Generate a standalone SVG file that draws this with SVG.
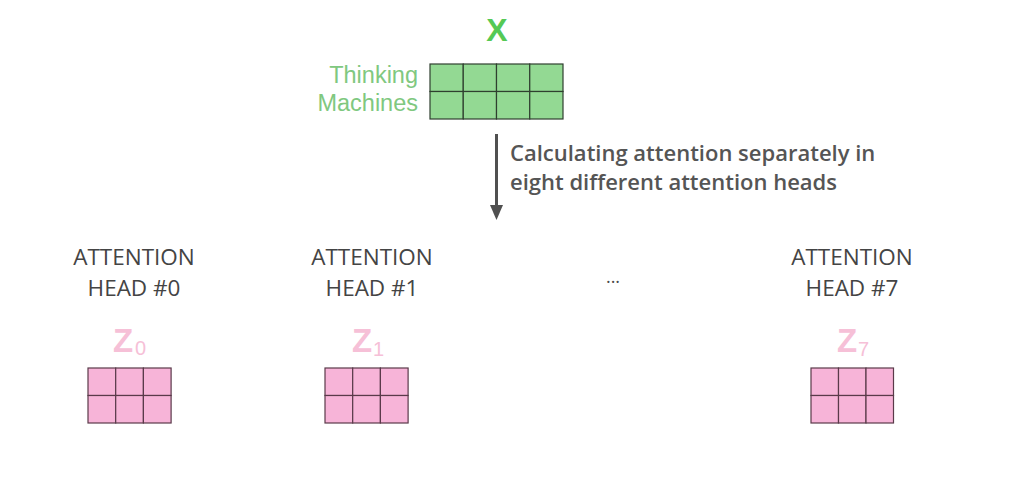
<svg xmlns="http://www.w3.org/2000/svg" width="1018" height="483" viewBox="0 0 1018 483">
<defs>
<style>
.head{font-family:"Open Sans","Liberation Sans",sans-serif;font-weight:500;font-size:22.5px;fill:#444;text-anchor:middle}
.note{font-family:"Open Sans","Liberation Sans",sans-serif;font-weight:600;font-size:22px;fill:#555}
.word{font-family:"Liberation Sans",sans-serif;font-size:23.5px;fill:#80c880;text-anchor:end}
.gcell{fill:#93d993;stroke:#2f3f2f;stroke-width:1.2}
.pcell{fill:#f7b4d8;stroke:#5a3a4a;stroke-width:1.2}
.zlab{font-family:"Liberation Sans",sans-serif;font-weight:bold;font-size:33px;fill:#f6c0d7}
.zsub{font-family:"Liberation Sans",sans-serif;font-size:20px;fill:#f6c0d7}
</style>
<marker id="ah" markerWidth="15" markerHeight="13" refX="0" refY="6.5" orient="auto" markerUnits="userSpaceOnUse" viewBox="0 0 15 13">
<path d="M0,0 L15,6.5 L0,13 Z" fill="#505050"/>
</marker>
</defs>
<rect width="1018" height="483" fill="#fff"/>
<g id="input-x">
<text x="497" y="41" font-family="Liberation Sans,sans-serif" font-weight="bold" font-size="32" fill="#55c955" text-anchor="middle">X</text>
<text class="word" x="418" y="83">Thinking</text>
<text class="word" x="418" y="111">Machines</text>
<g>
<rect class="gcell" x="430" y="64" width="33.25" height="27.5"/>
<rect class="gcell" x="463.25" y="64" width="33.25" height="27.5"/>
<rect class="gcell" x="496.5" y="64" width="33.25" height="27.5"/>
<rect class="gcell" x="529.75" y="64" width="33.25" height="27.5"/>
<rect class="gcell" x="430" y="91.5" width="33.25" height="27.5"/>
<rect class="gcell" x="463.25" y="91.5" width="33.25" height="27.5"/>
<rect class="gcell" x="496.5" y="91.5" width="33.25" height="27.5"/>
<rect class="gcell" x="529.75" y="91.5" width="33.25" height="27.5"/>
</g>
</g>
<g id="connectors">
<line x1="496.5" y1="134" x2="496.5" y2="205" stroke="#505050" stroke-width="3" marker-end="url(#ah)"/>
<text class="note" x="510" y="161">Calculating attention separately in</text>
<text class="note" x="510" y="190">eight different attention heads</text>
</g>
<g id="head0">
<text class="head" x="134" y="265">ATTENTION</text>
<text class="head" x="134" y="296">HEAD #0</text>
<text class="zlab" x="113" y="352">Z</text><text class="zsub" x="135" y="355">0</text>
<rect class="pcell" x="88" y="368" width="27.7" height="27.5"/>
<rect class="pcell" x="115.7" y="368" width="27.7" height="27.5"/>
<rect class="pcell" x="143.4" y="368" width="27.7" height="27.5"/>
<rect class="pcell" x="88" y="395.5" width="27.7" height="27.5"/>
<rect class="pcell" x="115.7" y="395.5" width="27.7" height="27.5"/>
<rect class="pcell" x="143.4" y="395.5" width="27.7" height="27.5"/>
</g>
<g id="head1">
<text class="head" x="372" y="265">ATTENTION</text>
<text class="head" x="372" y="296">HEAD #1</text>
<text class="zlab" x="352" y="352">Z</text><text class="zsub" x="373" y="356">1</text>
<rect class="pcell" x="325" y="368" width="27.7" height="27.5"/>
<rect class="pcell" x="352.7" y="368" width="27.7" height="27.5"/>
<rect class="pcell" x="380.4" y="368" width="27.7" height="27.5"/>
<rect class="pcell" x="325" y="395.5" width="27.7" height="27.5"/>
<rect class="pcell" x="352.7" y="395.5" width="27.7" height="27.5"/>
<rect class="pcell" x="380.4" y="395.5" width="27.7" height="27.5"/>
</g>
<g id="ellipsis">
<text x="613" y="283" font-family="Open Sans,Liberation Sans,sans-serif" font-size="18" fill="#4a4a4a" text-anchor="middle">...</text>
</g>
<g id="head7">
<text class="head" x="852" y="265">ATTENTION</text>
<text class="head" x="852" y="296">HEAD #7</text>
<text class="zlab" x="837" y="352">Z</text><text class="zsub" x="858" y="356">7</text>
<rect class="pcell" x="811" y="368" width="27.5" height="27.5"/>
<rect class="pcell" x="838.5" y="368" width="27.5" height="27.5"/>
<rect class="pcell" x="866" y="368" width="27.5" height="27.5"/>
<rect class="pcell" x="811" y="395.5" width="27.5" height="27.5"/>
<rect class="pcell" x="838.5" y="395.5" width="27.5" height="27.5"/>
<rect class="pcell" x="866" y="395.5" width="27.5" height="27.5"/>
</g>
</svg>
